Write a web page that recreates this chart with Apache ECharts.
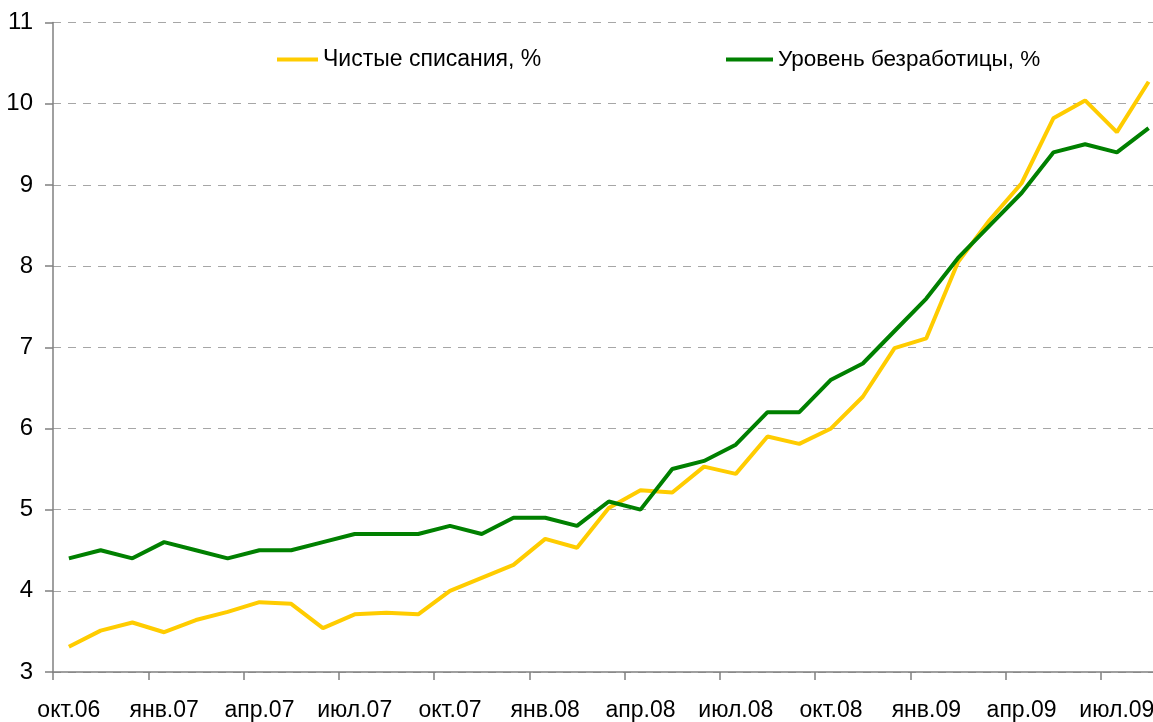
<!DOCTYPE html>
<html>
<head>
<meta charset="utf-8">
<script src="https://cdn.jsdelivr.net/npm/echarts@6/dist/echarts.min.js"></script>
<style>
html,body{margin:0;padding:0;background:#fff;overflow:hidden;}
#chart{width:1165px;height:722px;}
</style>
</head>
<body>
<div id="chart"></div>
<script>
const categories = ['окт.06','ноя.06','дек.06','янв.07','фев.07','мар.07','апр.07','май.07','июн.07','июл.07','авг.07','сен.07','окт.07','ноя.07','дек.07','янв.08','фев.08','мар.08','апр.08','май.08','июн.08','июл.08','авг.08','сен.08','окт.08','ноя.08','дек.08','янв.09','фев.09','мар.09','апр.09','май.09','июн.09','июл.09','авг.09'];
const chargeOffs = [3.31,3.51,3.61,3.49,3.64,3.74,3.86,3.84,3.54,3.71,3.73,3.71,4.00,4.16,4.32,4.64,4.53,5.02,5.24,5.21,5.53,5.44,5.90,5.81,6.00,6.39,6.99,7.11,8.05,8.57,9.02,9.82,10.04,9.65,10.27];
const unemployment = [4.4,4.5,4.4,4.6,4.5,4.4,4.5,4.5,4.6,4.7,4.7,4.7,4.8,4.7,4.9,4.9,4.8,5.1,5.0,5.5,5.6,5.8,6.2,6.2,6.6,6.8,7.2,7.6,8.1,8.5,8.9,9.4,9.5,9.4,9.7];
const seriesNames = ['Чистые списания, %','Уровень безработицы, %'];
const yTicks = {min:3, max:11, interval:1};

const FONT = "'Liberation Sans', Arial, sans-serif";
const chart = echarts.init(document.getElementById('chart'), null, {renderer:'canvas'});
chart.setOption({
  animation:false,
  backgroundColor:'#ffffff',
  textStyle:{fontFamily:FONT},
  legend:[
    {data:[seriesNames[0]], left:277, top:48, padding:0, icon:'rect', itemWidth:41, itemHeight:4, itemGap:0,
     textStyle:{fontFamily:FONT, fontSize:23, color:'#000'}},
    {data:[seriesNames[1]], left:726, top:48, padding:0, icon:'rect', itemWidth:47, itemHeight:4, itemGap:0,
     textStyle:{fontFamily:FONT, fontSize:22.5, color:'#000'}}
  ],
  grid:{left:53, right:0.5, top:22.5, bottom:49.5, containLabel:false},
  xAxis:{
    type:'category', data:categories, boundaryGap:true,
    axisLine:{show:true, lineStyle:{color:'#808080', width:1.5}},
    axisTick:{show:true, interval:2, length:8, lineStyle:{color:'#808080', width:1.5}},
    axisLabel:{interval:2, margin:27, fontFamily:FONT, fontSize:23, color:'#000'},
    splitLine:{show:false}
  },
  yAxis:{
    type:'value', min:yTicks.min, max:yTicks.max, interval:yTicks.interval,
    axisLine:{show:true, lineStyle:{color:'#808080', width:1.5}},
    axisTick:{show:true, length:8, lineStyle:{color:'#808080', width:1.5}},
    axisLabel:{margin:20, fontFamily:FONT, fontSize:24, color:'#000'},
    splitLine:{show:true, lineStyle:{color:'#a6a6a6', type:[8,7], width:1.2}}
  },
  series:[
    {name:seriesNames[0], type:'line', data:chargeOffs, symbol:'none',
     lineStyle:{color:'#FFCC00', width:4}, itemStyle:{color:'#FFCC00'}},
    {name:seriesNames[1], type:'line', data:unemployment, symbol:'none',
     lineStyle:{color:'#008000', width:4}, itemStyle:{color:'#008000'}}
  ]
});
</script>
</body>
</html>
